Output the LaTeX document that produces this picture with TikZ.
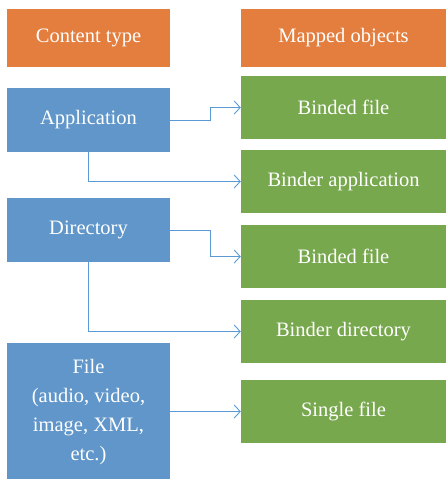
\documentclass[tikz,border=0pt]{standalone}
\usepackage{fontspec}
\setmainfont{Liberation Serif}
\usetikzlibrary{arrows.meta}
\definecolor{hdr}{HTML}{E47E3E}
\definecolor{src}{HTML}{6096C9}
\definecolor{dst}{HTML}{78A84E}
\definecolor{link}{HTML}{5B9BD5}
\tikzset{
  box/.style={inner sep=0pt, text=white, font=\fontsize{20.5}{29}\selectfont, align=center},
  hdrbox/.style={box, fill=hdr},
  srcbox/.style={box, fill=src, minimum width=163pt},
  dstbox/.style={box, fill=dst, minimum width=205pt, minimum height=63pt},
  link/.style={draw=link, line width=0.9pt, -{Straight Barb[length=6pt,width=13pt,line width=0.9pt]}}
}
\begin{document}
\begin{tikzpicture}[x=1pt,y=-1pt]
\useasboundingbox (0,0) rectangle (446,479);
% headers
\node[hdrbox, minimum width=163pt, minimum height=58pt] (ct) at (88.5,38) {Content type};
\node[hdrbox, minimum width=205pt, minimum height=58pt] (mo) at (343.5,38) {Mapped objects};
% content types
\node[srcbox, minimum height=64pt] (app) at (88.5,120) {Application};
\node[srcbox, minimum height=64pt] (dir) at (88.5,230) {Directory};
\node[srcbox, minimum height=138pt] (file) at (88.5,412) {File\\(audio, video,\\image, XML,\\etc.)};
% mapped objects
\node[dstbox] (bf1) at (343.5,107.5) {Binded file};
\node[dstbox] (bapp) at (343.5,181.5) {Binder application};
\node[dstbox] (bf2) at (343.5,256.5) {Binded file};
\node[dstbox] (bdir) at (343.5,331.5) {Binder directory};
\node[dstbox] (sf) at (343.5,411.5) {Single file};
% connectors
\draw[link] (app.east) -- ++(40,0) |- (bf1.west);
\draw[link] (app.south) |- (bapp.west);
\draw[link] (dir.east) -- ++(40,0) |- (bf2.west);
\draw[link] (dir.south) |- (bdir.west);
\draw[link] (file.east |- sf.west) -- (sf.west);
\end{tikzpicture}
\end{document}
